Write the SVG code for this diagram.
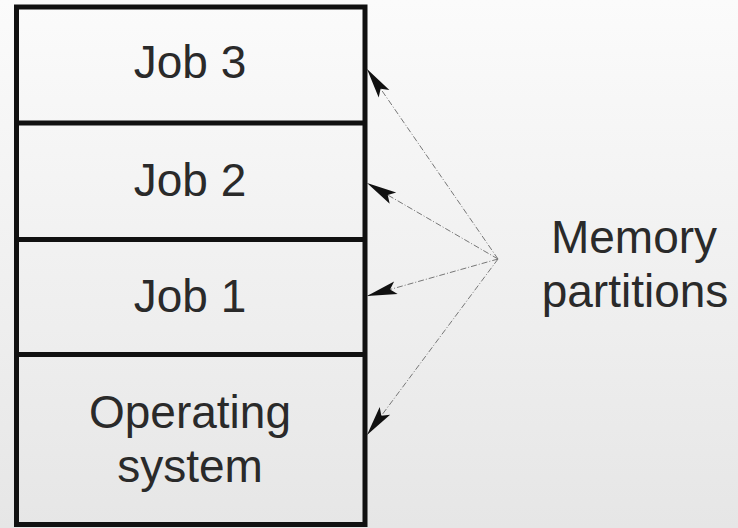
<svg xmlns="http://www.w3.org/2000/svg" width="738" height="528" viewBox="0 0 738 528">
<defs>
<linearGradient id="bg" x1="0" y1="0" x2="0" y2="1">
<stop offset="0" stop-color="#fbfbfb"/>
<stop offset="1" stop-color="#e6e6e6"/>
</linearGradient>
<marker id="ah" markerUnits="userSpaceOnUse" markerWidth="34" markerHeight="16" viewBox="-32 -8 34 16" refX="0" refY="0" orient="auto">
<path d="M0,0 L-30,-6.5 L-24,0 L-30,6.5 Z" fill="#111"/>
</marker>
<style>
.box{fill:none;stroke:#111;stroke-width:5}
.div{stroke:#111;stroke-width:5}
.t{font-family:"Liberation Sans",Arial,sans-serif;font-size:46px;fill:#2a2a2a;text-anchor:middle}
.c{stroke:#777;stroke-width:1;stroke-dasharray:6 2 1 2;fill:none;marker-end:url(#ah)}
</style>
</defs>
<rect width="738" height="528" fill="url(#bg)"/>
<g id="memory">
<rect class="box" x="16.5" y="7" width="348.5" height="517.5"/>
</g>
<g id="job3">
<text class="t" x="190" y="78">Job 3</text>
</g>
<g id="job2">
<line class="div" x1="16.5" y1="123" x2="365" y2="123"/>
<text class="t" x="190" y="196">Job 2</text>
</g>
<g id="job1">
<line class="div" x1="16.5" y1="239.5" x2="365" y2="239.5"/>
<text class="t" x="190" y="312">Job 1</text>
</g>
<g id="os">
<line class="div" x1="16.5" y1="354.5" x2="365" y2="354.5"/>
<text class="t" x="190" y="428">Operating</text>
<text class="t" x="190" y="482">system</text>
</g>
<g id="label">
<text class="t" x="634" y="253">Memory</text>
<text class="t" x="635" y="307">partitions</text>
</g>
<g id="connectors">
<line class="c" x1="498" y1="259" x2="367" y2="69"/>
<line class="c" x1="498" y1="259" x2="367" y2="183"/>
<line class="c" x1="498" y1="259" x2="367" y2="296"/>
<line class="c" x1="498" y1="259" x2="367" y2="435"/>
</g>
</svg>
